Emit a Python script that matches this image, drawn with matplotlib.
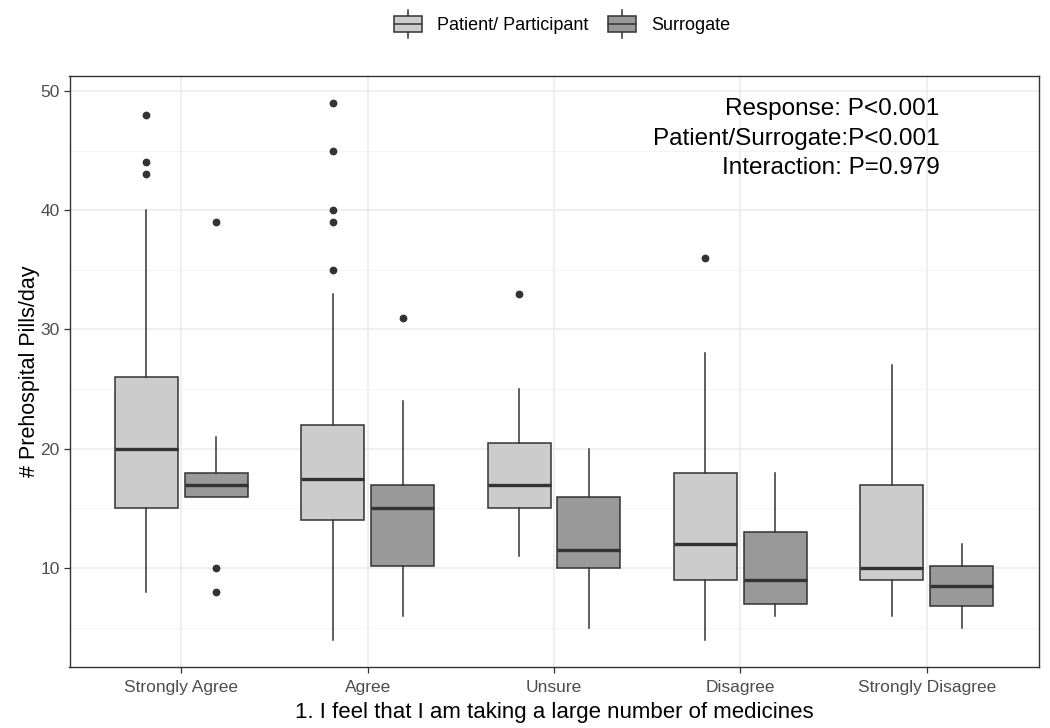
import matplotlib
matplotlib.use("Agg")
import matplotlib.pyplot as plt
from matplotlib.legend_handler import HandlerBase
from matplotlib.patches import Rectangle, Patch
from matplotlib.lines import Line2D

plt.rcParams['font.family'] = ['Liberation Sans', 'DejaVu Sans']

categories = ['Strongly Agree', 'Agree', 'Unsure', 'Disagree', 'Strongly Disagree']
groups = ['Patient/ Participant', 'Surrogate']

patient_whislo = [8, 4, 11, 4, 6]
patient_q1 = [15, 14, 15, 9, 9]
patient_med = [20, 17.5, 17, 12, 10]
patient_q3 = [26, 22, 20.5, 18, 17]
patient_whishi = [40, 33, 25, 28, 27]
patient_fliers = [[48, 44, 43], [49, 45, 40, 39, 35], [33], [36], []]

surr_whislo = [16, 6, 5, 6, 5]
surr_q1 = [16, 10.2, 10, 7, 6.8]
surr_med = [17, 15, 11.5, 9, 8.5]
surr_q3 = [18, 17, 16, 13, 10.2]
surr_whishi = [21, 24, 20, 18, 12]
surr_fliers = [[39, 10, 8], [31], [], [], []]

annotation = ['Response: P<0.001', 'Patient/Surrogate:P<0.001', 'Interaction: P=0.979']
xlabel = '1. I feel that I am taking a large number of medicines'
ylabel = '# Prehospital Pills/day'

fills = ['#CCCCCC', '#999999']
edge = '#333333'

fig = plt.figure(figsize=(10.5, 7.28), dpi=100)
ax = fig.add_axes([69.5/1050, 61.5/728, 969/1050, 590.5/728])

def stats(wl, q1, med, q3, wh, fl):
    return [dict(whislo=a, q1=b, med=c, q3=d, whishi=e, fliers=f)
            for a, b, c, d, e, f in zip(wl, q1, med, q3, wh, fl)]

series = [stats(patient_whislo, patient_q1, patient_med, patient_q3, patient_whishi, patient_fliers),
          stats(surr_whislo, surr_q1, surr_med, surr_q3, surr_whishi, surr_fliers)]

width = 0.3375
offsets = [-0.1875, 0.1875]
for gi, st in enumerate(series):
    pos = [i + offsets[gi] for i in range(len(categories))]
    ax.bxp(st, positions=pos, widths=width, patch_artist=True, showcaps=False,
           boxprops=dict(facecolor=fills[gi], edgecolor=edge, linewidth=1.1),
           medianprops=dict(color=edge, linewidth=2.4, solid_capstyle='butt'),
           whiskerprops=dict(color=edge, linewidth=1.1),
           flierprops=dict(marker='o', markerfacecolor=edge, markeredgecolor=edge,
                           markersize=4.6, linestyle='none'),
           zorder=3)

ax.set_xlim(-0.6, 4.6)
ax.set_ylim(1.75, 51.25)
ax.set_xticks(range(len(categories)))
ax.set_xticklabels(categories)
ax.set_yticks([10, 20, 30, 40, 50])
ax.set_yticks([5, 15, 25, 35, 45], minor=True)
ax.tick_params(axis='both', which='major', labelsize=12.5, labelcolor='#4D4D4D',
               color='#333333', length=4, width=0.9, pad=3)
ax.tick_params(axis='x', which='major', pad=6)
ax.tick_params(axis='y', which='minor', length=0)
ax.grid(True, which='major', color='#EBEBEB', linewidth=1.1, zorder=0)
ax.grid(True, which='minor', axis='y', color='#F2F2F2', linewidth=0.6, zorder=0)
ax.set_axisbelow(True)
for s in ax.spines.values():
    s.set_color('#333333')
    s.set_linewidth(1.0)
ax.set_xlabel(xlabel, fontsize=16, color='black', labelpad=4.5)
ax.set_ylabel(ylabel, fontsize=15.5, color='black', labelpad=0.5)

ys = [48.45, 46.0, 43.55]
for t, y in zip(annotation, ys):
    ax.text(4.07, y, t, ha='right', va='center', fontsize=17.5, color='black')

class BoxHandler(HandlerBase):
    def create_artists(self, legend, orig_handle, xdescent, ydescent, width, height, fontsize, trans):
        x0, y0 = -xdescent, -ydescent
        fc = orig_handle.get_facecolor()
        xm = x0 + width / 2
        arts = [
            Line2D([xm, xm], [y0 + 0.05 * height, y0 + 0.95 * height], color=edge, lw=1.1, transform=trans),
            Rectangle((x0 + 0.05 * width, y0 + 0.265 * height), 0.9 * width, 0.47 * height,
                      facecolor=fc, edgecolor=edge, lw=1.1, transform=trans),
            Line2D([x0 + 0.05 * width, x0 + 0.95 * width], [y0 + 0.5 * height] * 2, color=edge, lw=1.1, transform=trans),
        ]
        return arts

handles = [Patch(facecolor=c) for c in fills]
fig.legend(handles, groups, handler_map={Patch: BoxHandler()}, loc='center',
           bbox_to_anchor=(561/1050, 1 - 24/728), ncol=2, frameon=False, fontsize=13,
           handlelength=1.72, handleheight=2.35, handletextpad=0.75, columnspacing=1.0,
           borderaxespad=0, borderpad=0)

fig.savefig('out.png', dpi=100, facecolor='white')
